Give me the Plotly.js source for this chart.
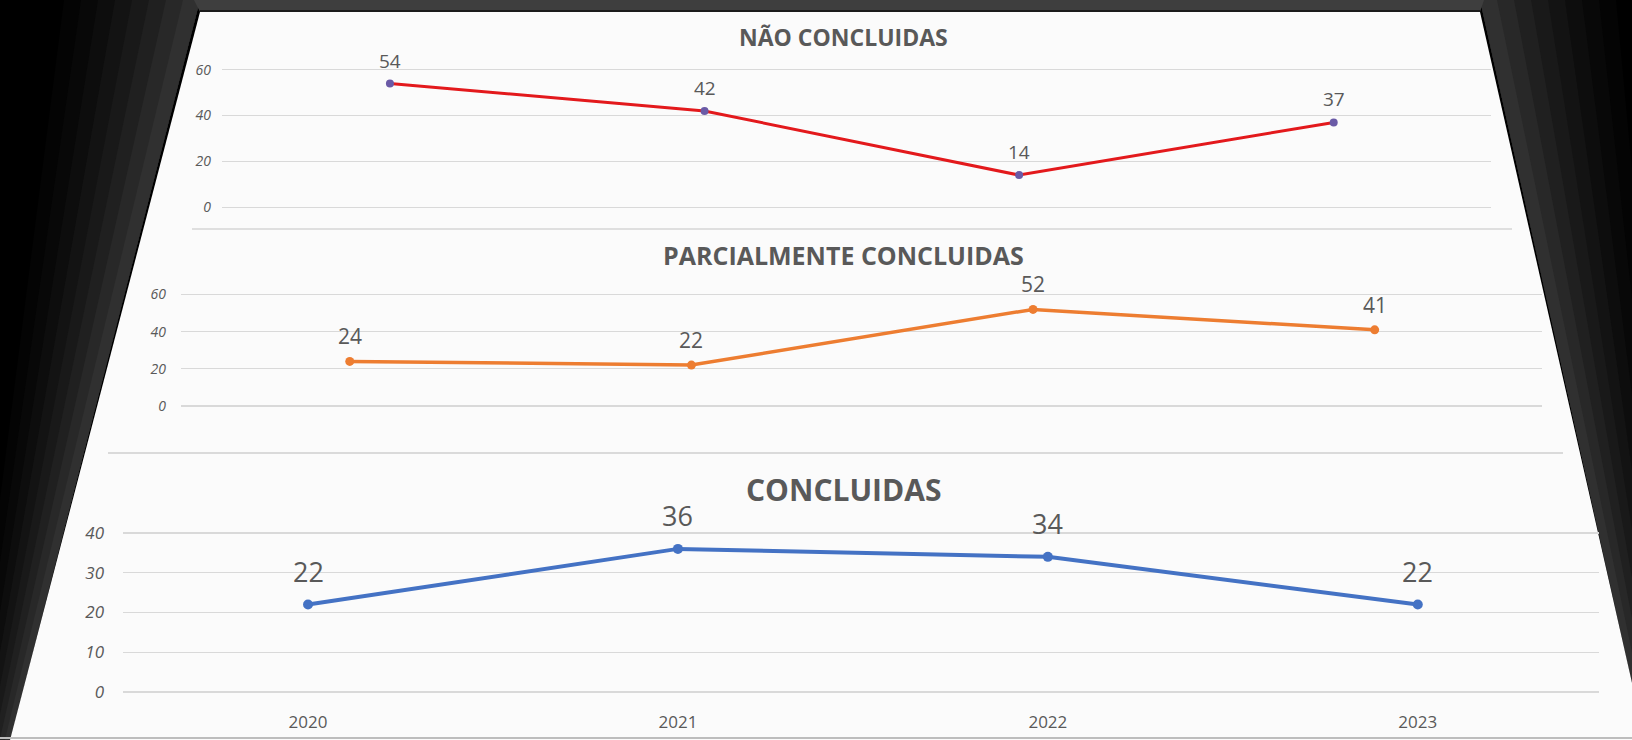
<!DOCTYPE html>
<html>
<head>
<meta charset="utf-8">
<script src="https://cdn.plot.ly/plotly-3.0.1.min.js"></script>
<style>
html,body{margin:0;padding:0;background:#000;}
#chart{width:1632px;height:740px;}
</style>
</head>
<body>
<div id="chart"></div>
<script>
// ---- data ----
const years = ['2020', '2021', '2022', '2023'];
const naoConcluidas = [54, 42, 14, 37];
const parcialmenteConcluidas = [24, 22, 52, 41];
const concluidas = [22, 36, 34, 22];
const titles = ['NÃO CONCLUIDAS', 'PARCIALMENTE CONCLUIDAS', 'CONCLUIDAS'];
const ticksTop = [0, 20, 40, 60];
const ticksMid = [0, 20, 40, 60];
const ticksBot = [0, 10, 20, 30, 40];

const W = 1632, H = 740;
const px = v => v / W;
const py = v => 1 - v / H;

const FONT = '"Open Sans", Lato, sans-serif';
const GREY = '#595959';

const panels = [
  {vals: naoConcluidas, x: 'x', y: 'y', line: '#e3191c', marker: '#6a5aa6', lw: 3, ms: 8, lab: 19, shift: 23},
  {vals: parcialmenteConcluidas, x: 'x2', y: 'y2', line: '#ed7d31', marker: '#ed7d31', lw: 3.5, ms: 9, lab: 21, shift: 25},
  {vals: concluidas, x: 'x3', y: 'y3', line: '#4472c4', marker: '#4472c4', lw: 4, ms: 10, lab: 27, shift: 33}
];

const traces = panels.map(p => ({
  type: 'scatter', mode: 'lines+markers',
  x: years, y: p.vals, xaxis: p.x, yaxis: p.y,
  line: {color: p.line, width: p.lw},
  marker: {color: p.marker, size: p.ms},
  hoverinfo: 'x+y', showlegend: false
}));

const annotations = [];
panels.forEach(p => {
  p.vals.forEach((v, i) => {
    annotations.push({
      x: i, y: v, xref: p.x, yref: p.y, text: String(v),
      showarrow: false, yshift: p.shift,
      font: {family: FONT, size: p.lab, color: GREY}
    });
  });
});
const titlePos = [[843, 37, 23], [843, 255, 25], [843, 489, 30]];
titles.forEach((t, i) => {
  annotations.push({
    x: px(titlePos[i][0]), y: py(titlePos[i][1]), xref: 'paper', yref: 'paper',
    text: t, showarrow: false, xanchor: 'center', yanchor: 'middle',
    font: {family: FONT, size: titlePos[i][2], color: GREY, weight: 'bold'}
  });
});

function poly(pts, fill) {
  const d = 'M ' + pts.map(p => px(p[0]) + ',' + py(p[1])).join(' L ') + ' Z';
  return {type: 'path', xref: 'paper', yref: 'paper', path: d, fillcolor: fill, line: {width: 0}, layer: 'below'};
}
const TL = [200, 12], TR = [1480, 12], BR = [1645, 740], BL = [10, 740];
const shapes = [];
// side glows (soft gradient to black)
const glow = ['#040404', '#080808', '#0d0d0d', '#131313', '#191919', '#202020', '#282828', '#303030'];
glow.forEach((c, k) => {
  const off = (glow.length - k) * 17;
  shapes.push(poly([[TL[0] - off, 0], [TL[0], 0], BL, [BL[0] - off * 0.3, 740]], c));
  shapes.push(poly([[TR[0], 0], [TR[0] + off, 0], [BR[0] + off * 0.3, 740], BR], c));
});
// top band
shapes.push(poly([[194, 0], [1484, 0], [1480, 12], [200, 12]], '#3e3e3e'));
shapes.push({type: 'line', xref: 'paper', yref: 'paper', x0: px(200), x1: px(1480), y0: py(11), y1: py(11), line: {color: '#111', width: 1.5}});
// white sheet
shapes.push(poly([TL, TR, BR, BL], '#fbfbfb'));
// dividers
shapes.push({type: 'line', xref: 'paper', yref: 'paper', x0: px(192), x1: px(1512), y0: py(229), y1: py(229), line: {color: '#d6d6d6', width: 1.5}});
shapes.push({type: 'line', xref: 'paper', yref: 'paper', x0: px(108), x1: px(1563), y0: py(453), y1: py(453), line: {color: '#cfcfcf', width: 1.5}});
shapes.push({type: 'line', xref: 'paper', yref: 'paper', x0: px(0), x1: px(1632), y0: py(738), y1: py(738), line: {color: '#bdbdbd', width: 2}});

const yTick = {family: FONT, size: 14, color: GREY, style: 'italic'};
const xBase = {type: 'category', showgrid: false, zeroline: false, showline: false, ticks: '', fixedrange: true};
const yBase = {showline: false, zeroline: false, gridcolor: '#d9d9d9', gridwidth: 1.2, ticks: '', tickfont: yTick, tickmode: 'array', fixedrange: true};

const layout = {
  width: W, height: H,
  margin: {l: 0, r: 0, t: 0, b: 0},
  paper_bgcolor: '#000', plot_bgcolor: 'rgba(0,0,0,0)',
  font: {family: FONT, color: GREY},
  xaxis: Object.assign({}, xBase, {domain: [0.136, 0.9136], range: [-0.534, 3.5], anchor: 'y', showticklabels: false}),
  yaxis: Object.assign({}, yBase, {domain: [0.7046, 0.9212], anchor: 'x', range: [-5, 65], tickvals: ticksTop, ticklabelstandoff: 10}),
  xaxis2: Object.assign({}, xBase, {domain: [0.1109, 0.9449], range: [-0.494, 3.49], anchor: 'y2', showticklabels: false}),
  yaxis2: Object.assign({}, yBase, {domain: [0.4389, 0.6145], anchor: 'x2', range: [-5, 65], tickvals: ticksMid, ticklabelstandoff: 14}),
  xaxis3: Object.assign({}, xBase, {domain: [0.0754, 0.9798], range: [-0.5, 3.49], anchor: 'y3', showticklabels: true, tickfont: {family: FONT, size: 17, color: GREY}, ticklabelstandoff: 10}),
  yaxis3: Object.assign({}, yBase, {domain: [0.0541, 0.2905], anchor: 'x3', range: [-2, 42], tickvals: ticksBot, ticklabelstandoff: 18, tickfont: Object.assign({}, yTick, {size: 17})}),
  shapes: shapes,
  annotations: annotations
};

Plotly.newPlot('chart', traces, layout, {displayModeBar: false, staticPlot: true});
</script>
</body>
</html>
